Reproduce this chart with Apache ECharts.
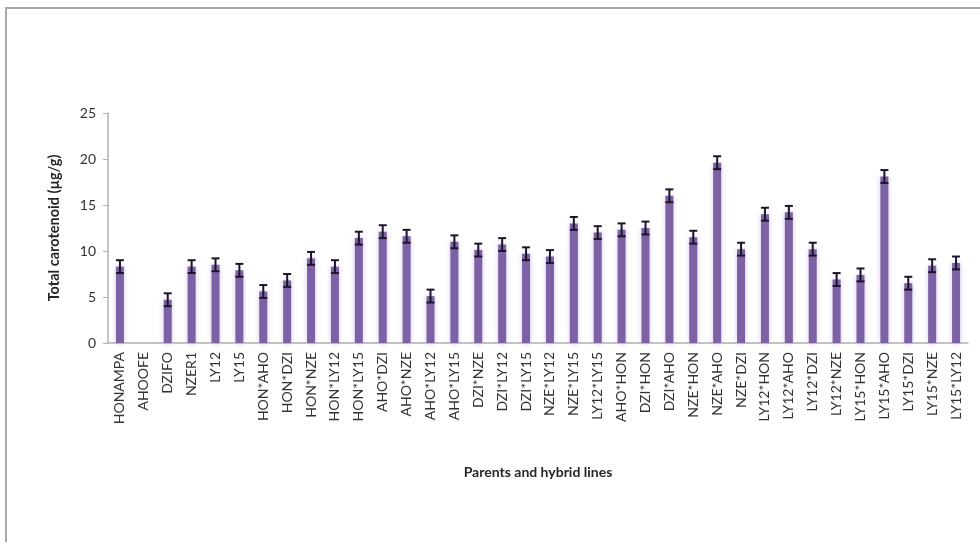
<!DOCTYPE html>
<html>
<head>
<meta charset="utf-8">
<script src="https://cdn.jsdelivr.net/npm/echarts@6/dist/echarts.min.js"></script>
<style>
  html, body { margin: 0; padding: 0; background: #fff; }
  #frame { position: absolute; left: 5px; top: 7px; width: 990px; height: 560px;
           border-left: 2px solid #a8a8a8; border-top: 2px solid #a8a8a8; }
  #chart { position: absolute; left: 0; top: 0; width: 980px; height: 542px; }
</style>
</head>
<body>
<div id="frame"></div>
<div id="chart"></div>
<script>
// Parents and hybrid lines
const categories = [
  'HONAMPA', 'AHOOFE', 'DZIFO', 'NZER1', 'LY12', 'LY15',
  'HON*AHO', 'HON*DZI', 'HON*NZE', 'HON*LY12', 'HON*LY15',
  'AHO*DZI', 'AHO*NZE', 'AHO*LY12', 'AHO*LY15',
  'DZI*NZE', 'DZI*LY12', 'DZI*LY15', 'NZE*LY12', 'NZE*LY15', 'LY12*LY15',
  'AHO*HON', 'DZI*HON', 'DZI*AHO', 'NZE*HON', 'NZE*AHO', 'NZE*DZI',
  'LY12*HON', 'LY12*AHO', 'LY12*DZI', 'LY12*NZE',
  'LY15*HON', 'LY15*AHO', 'LY15*DZI', 'LY15*NZE', 'LY15*LY12'
];

// Total carotenoid, µg/g (mean)
const carotenoid = [
  8.3, 0, 4.7, 8.3, 8.5, 7.9,
  5.6, 6.8, 9.2, 8.3, 11.4,
  12.1, 11.6, 5.1, 11.0,
  10.1, 10.7, 9.7, 9.4, 13.0, 12.0,
  12.3, 12.5, 16.0, 11.5, 19.6, 10.2,
  14.0, 14.2, 10.2, 6.9,
  7.4, 18.1, 6.5, 8.4, 8.7
];

// Standard error of each mean
const stdErr = [
  0.7, 0, 0.7, 0.7, 0.7, 0.7,
  0.7, 0.7, 0.7, 0.7, 0.7,
  0.7, 0.7, 0.7, 0.7,
  0.7, 0.7, 0.7, 0.7, 0.7, 0.7,
  0.7, 0.7, 0.7, 0.7, 0.7, 0.7,
  0.7, 0.7, 0.7, 0.7,
  0.7, 0.7, 0.7, 0.7, 0.7
];

const yTicks = { min: 0, max: 25, interval: 5 };

const errorData = categories.map((c, i) => [i, carotenoid[i] - stdErr[i], carotenoid[i] + stdErr[i], stdErr[i]]);

const chart = echarts.init(document.getElementById('chart'), null, { renderer: 'canvas' });

chart.setOption({
  animation: false,
  grid: { left: 108, right: 12, top: 113, bottom: 199 },
  xAxis: {
    type: 'category',
    data: categories,
    axisLine: { lineStyle: { color: '#b0b0b0', width: 1.5 } },
    axisTick: { show: false },
    axisLabel: {
      rotate: 90,
      interval: 0,
      margin: 9,
      color: '#333333',
      fontFamily: 'Lato',
      fontSize: 14
    },
    name: 'Parents and hybrid lines',
    nameLocation: 'middle',
    nameGap: 122,
    nameTextStyle: { fontFamily: 'Lato', fontWeight: 'bold', fontSize: 14, color: '#262626' }
  },
  yAxis: {
    type: 'value',
    min: yTicks.min,
    max: yTicks.max,
    interval: yTicks.interval,
    splitLine: { show: false },
    axisLine: { show: true, lineStyle: { color: '#b0b0b0', width: 1.5 } },
    axisTick: { show: true, inside: false, length: 5, lineStyle: { color: '#b0b0b0' } },
    axisLabel: { color: '#333333', fontFamily: 'Lato', fontSize: 14, margin: 12 },
    name: 'Total carotenoid (µg/g)',
    nameLocation: 'middle',
    nameGap: 46,
    nameTextStyle: { fontFamily: 'Lato', fontWeight: 'bold', fontSize: 14.5, color: '#262626' }
  },
  series: [
    {
      type: 'bar',
      data: carotenoid,
      barWidth: 8,
      itemStyle: {
        color: '#7c62a4',
        shadowColor: 'rgba(170,150,220,0.55)',
        shadowBlur: 5
      }
    },
    {
      type: 'custom',
      data: errorData,
      z: 5,
      renderItem: function (params, api) {
        if (api.value(3) <= 0) return null;
        const x = api.value(0);
        const lo = api.coord([x, api.value(1)]);
        const hi = api.coord([x, api.value(2)]);
        const half = 4;
        const style = { stroke: '#1c1528', lineWidth: 2 };
        return {
          type: 'group',
          children: [
            { type: 'line', shape: { x1: hi[0], y1: hi[1], x2: lo[0], y2: lo[1] }, style },
            { type: 'line', shape: { x1: hi[0] - half, y1: hi[1], x2: hi[0] + half, y2: hi[1] }, style },
            { type: 'line', shape: { x1: lo[0] - half, y1: lo[1], x2: lo[0] + half, y2: lo[1] }, style }
          ]
        };
      }
    }
  ]
});
</script>
</body>
</html>
